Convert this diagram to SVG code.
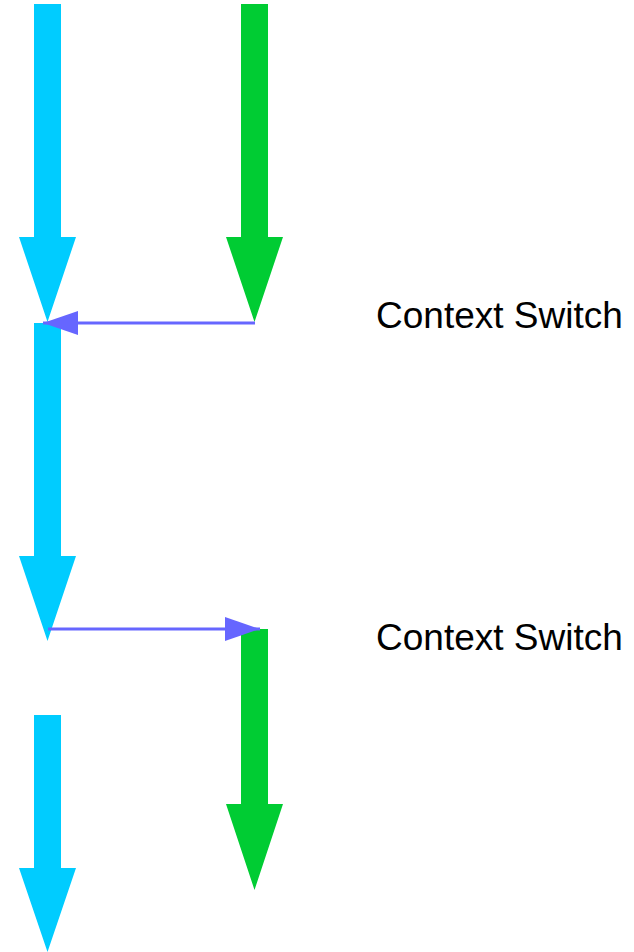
<svg xmlns="http://www.w3.org/2000/svg" width="634" height="952" viewBox="0 0 634 952">
  <style>
    .blue { fill: #00ccff; }
    .green { fill: #00cc33; }
    .switch { stroke: #6666ff; stroke-width: 3; fill: none; }
    .label { font-family: "Liberation Sans", Arial, sans-serif; font-size: 37px; fill: #000000; }
  </style>
  <defs>
    <marker id="switchHead" markerUnits="userSpaceOnUse" markerWidth="36" markerHeight="24" refX="35" refY="12" orient="auto">
      <polygon points="0,0 35,12 0,24" fill="#6666ff"/>
    </marker>
  </defs>

  <!-- thread A (blue) -->
  <g id="threadA-1">
    <polygon class="blue" points="34,4 61,4 61,237 76,237 47.5,322 19,237 34,237"/>
  </g>
  <g id="threadA-2">
    <polygon class="blue" points="34,323 61,323 61,556 76,556 47.5,641 19,556 34,556"/>
  </g>
  <g id="threadA-3">
    <polygon class="blue" points="34,715 61,715 61,868 76,868 47.5,952 19,868 34,868"/>
  </g>

  <!-- thread B (green) -->
  <g id="threadB-1">
    <polygon class="green" points="241,4 268,4 268,237 283,237 254.5,322 226,237 241,237"/>
  </g>
  <g id="threadB-2">
    <polygon class="green" points="241,629 268,629 268,804 283,804 254.5,890 226,804 241,804"/>
  </g>

  <!-- context switch connectors -->
  <g id="connectors">
    <line class="switch" x1="255" y1="323" x2="43" y2="323" marker-end="url(#switchHead)"/>
    <line class="switch" x1="48" y1="629" x2="260" y2="629" marker-end="url(#switchHead)"/>
  </g>

  <g id="label-1">
    <text class="label" x="376" y="328">Context Switch</text>
  </g>
  <g id="label-2">
    <text class="label" x="376" y="650">Context Switch</text>
  </g>
</svg>
